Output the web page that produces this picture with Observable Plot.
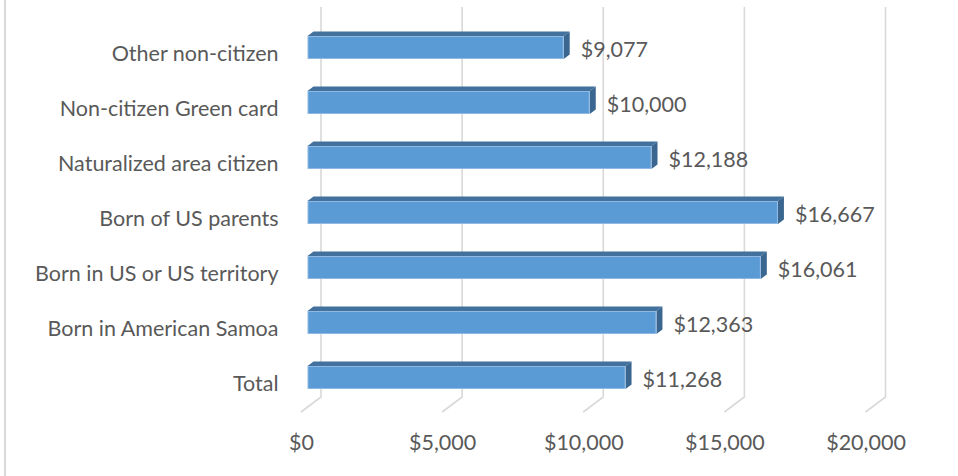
<!DOCTYPE html>
<html>
<head>
<meta charset="utf-8">
<script src="https://cdn.jsdelivr.net/npm/d3@7"></script>
<script src="https://cdn.jsdelivr.net/npm/@observablehq/plot@0.6"></script>
<style>
html, body { margin: 0; padding: 0; background: #ffffff; }
#chart { position: relative; width: 958px; height: 476px; overflow: hidden; }
#chart .edge { position: absolute; left: 4px; top: 0; width: 2px; height: 476px; background: #d9d9d9; }
#chart svg { position: absolute; left: 0; top: 0; }
</style>
</head>
<body>
<div id="chart"><div class="edge"></div></div>
<script>
// ---- data (top to bottom, as shown) ----
const categories = [
  "Other non-citizen",
  "Non-citizen Green card",
  "Naturalized area citizen",
  "Born of US parents",
  "Born in US or US territory",
  "Born in American Samoa",
  "Total"
];
const values = [9077, 10000, 12188, 16667, 16061, 12363, 11268];
const xTicks = [0, 5000, 10000, 15000, 20000];

const data = categories.map((c, i) => ({category: c, value: values[i]}));
const money = d => "$" + d3.format(",")(d);

// ---- style ----
const FONT = "Lato, 'Open Sans', sans-serif";
const TEXT = "#595959";
const FRONT = "#5b9bd5", TOP = "#41719c", SIDE = "#3a6690";
const BAR_DX = 6.5;            // bar front face offset from the front plane
const DEPTH_X = 6, DEPTH_Y = -4.5;  // bar depth (top/side faces)
const GRID_DX = 20, GRID_DY = 15;   // back wall offset

function gridRender(index, scales, values, dimensions) {
  const yb = dimensions.height - dimensions.marginBottom;
  const g = d3.create("svg:g")
    .attr("fill", "none")
    .attr("stroke", "#d9d9d9")
    .attr("stroke-width", 1.6);
  for (const i of index) {
    const x = values.x[i];
    g.append("path").attr("d",
      `M${x + GRID_DX},${dimensions.marginTop}V${yb}L${x},${yb + GRID_DY}`);
  }
  return g.node();
}

function barRender(index, scales, values) {
  const bw = scales.y && scales.y.bandwidth ? scales.y.bandwidth() : 23;
  const g = d3.create("svg:g");
  for (const i of index) {
    const x0 = Math.min(values.x1[i], values.x2[i]) + BAR_DX;
    const x1 = Math.max(values.x1[i], values.x2[i]) + BAR_DX;
    const y0 = values.y[i], y1 = y0 + bw;
    // top face
    g.append("path").attr("fill", TOP)
      .attr("d", `M${x0},${y0}L${x1},${y0}L${x1 + DEPTH_X},${y0 + DEPTH_Y}L${x0 + DEPTH_X},${y0 + DEPTH_Y}Z`);
    // side face
    g.append("path").attr("fill", SIDE)
      .attr("d", `M${x1},${y0}L${x1 + DEPTH_X},${y0 + DEPTH_Y}L${x1 + DEPTH_X},${y1 + DEPTH_Y}L${x1},${y1}Z`);
    // front face
    g.append("rect").attr("fill", FRONT)
      .attr("stroke", "#8fb9e3").attr("stroke-width", 1)
      .attr("x", x0 + 0.5).attr("y", y0 + 0.5)
      .attr("width", x1 - x0 - 1).attr("height", bw - 1);
  }
  return g.node();
}

const chart = Plot.plot({
  width: 958,
  height: 476,
  marginTop: 7,
  marginBottom: 79,
  marginLeft: 301,
  marginRight: 92,
  style: {fontFamily: FONT, fontSize: "21.5px", color: TEXT, background: "transparent"},
  x: {domain: [0, 20000], range: [301, 865.5]},
  y: {domain: categories, range: [1.33, 423.69], padding: 0.5868},
  marks: [
    Plot.ruleX(xTicks, {x: d => d, render: gridRender}),
    Plot.barX(data, {x: "value", y: "category", render: barRender}),
    Plot.text(data, {
      x: "value", y: "category", text: d => money(d.value),
      textAnchor: "start", dx: 23, dy: 2, fill: TEXT, fontSize: 21.5
    }),
    Plot.axisY({tickSize: 0, tickPadding: 23, dy: 6, label: null, fill: TEXT}),
    Plot.axisX(xTicks, {tickSize: 0, tickPadding: 37, tickFormat: money, label: null, fill: TEXT})
  ]
});
document.getElementById("chart").appendChild(chart);
</script>
</body>
</html>
